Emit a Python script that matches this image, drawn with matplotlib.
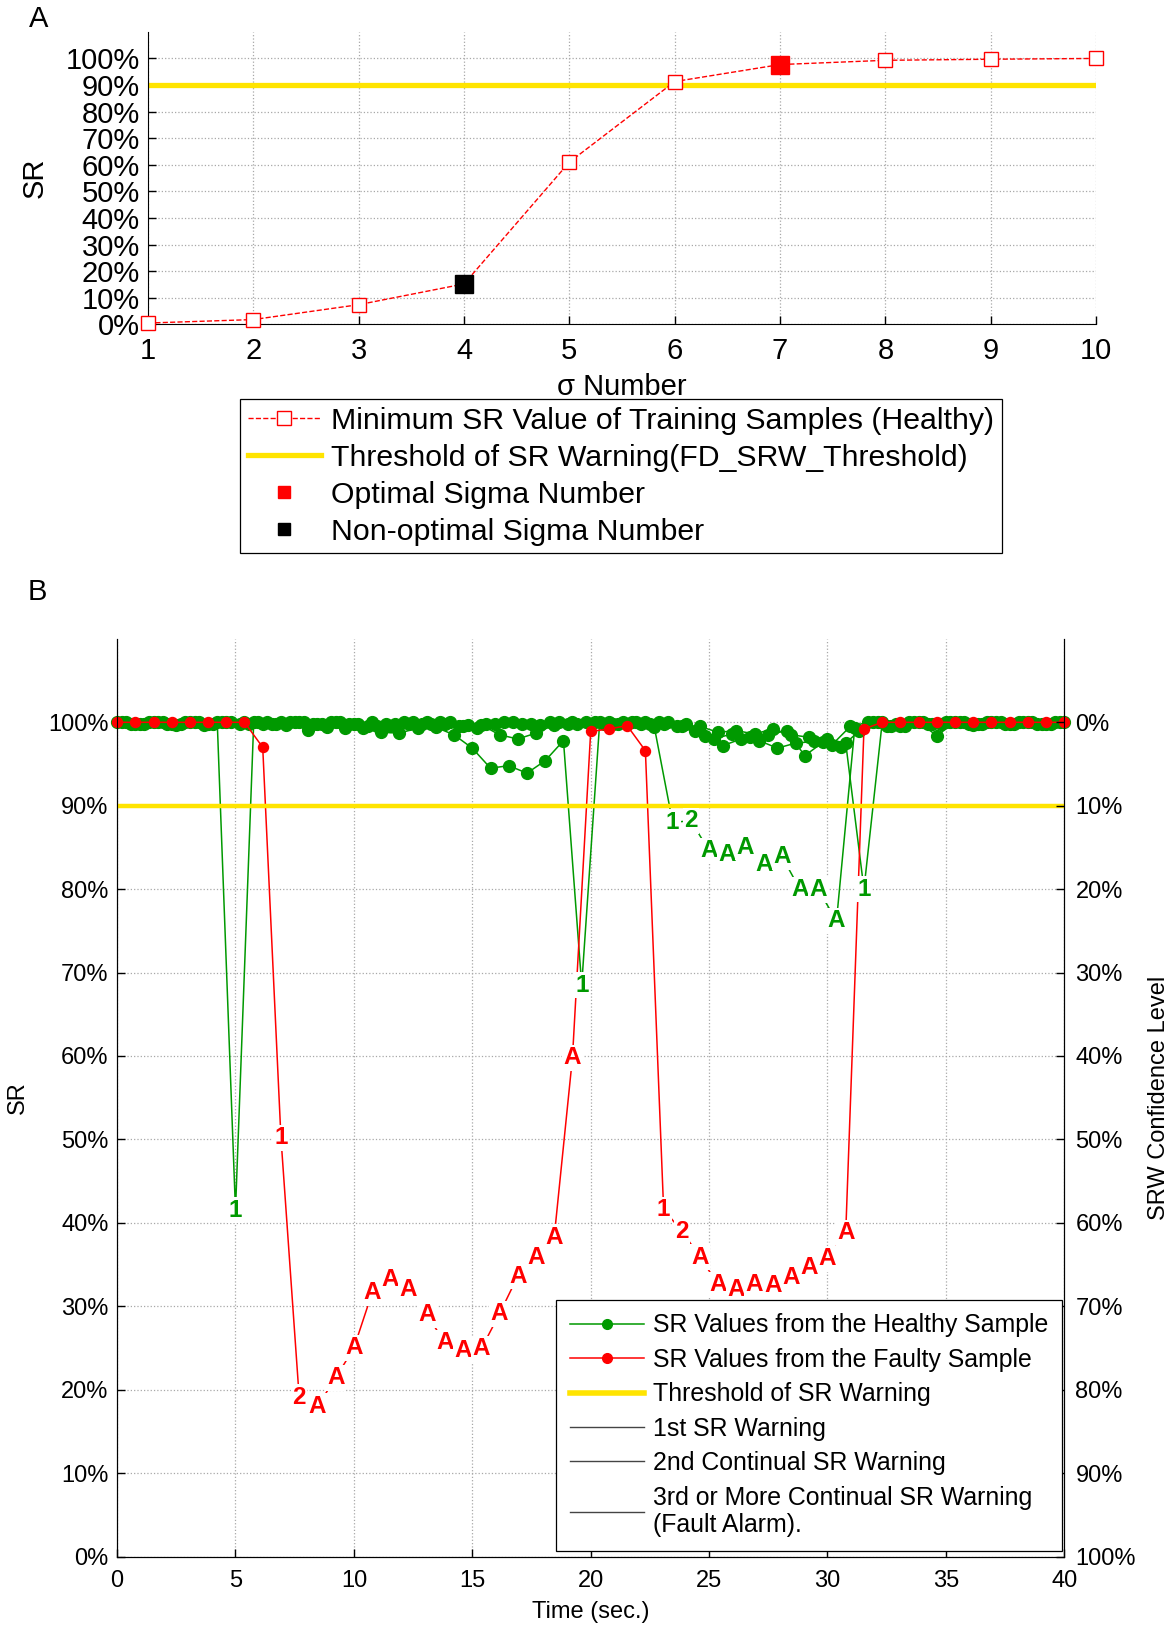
import matplotlib
matplotlib.use('Agg')
import matplotlib.pyplot as plt
from matplotlib.lines import Line2D
import numpy as np

plt.rcParams['font.family'] = ['Liberation Sans', 'DejaVu Sans']

# ---------------- Panel A data ----------------
sigma_numbers = [1, 2, 3, 4, 5, 6, 7, 8, 9, 10]
min_sr_pct = [0.5, 1.8, 7.4, 15.2, 61.0, 91.3, 97.7, 99.3, 99.7, 100.0]
sr_threshold_pct = 90
optimal_sigma = 7
non_optimal_sigma = 4
legend_a_labels = ['Minimum SR Value of Training Samples (Healthy)',
                   'Threshold of SR Warning(FD_SRW_Threshold)',
                   'Optimal Sigma Number',
                   'Non-optimal Sigma Number']

# ---------------- Panel B data ----------------
# faulty sample (time in s, SR in %)
t_faulty = [0.00, 0.77, 1.54, 2.31, 3.08, 3.85, 4.62, 5.38, 6.15, 6.92, 7.69, 8.46, 9.23,
            10.00, 10.77, 11.54, 12.31, 13.08, 13.85, 14.62, 15.38, 16.15, 16.92, 17.69,
            18.46, 19.23, 20.00, 20.77, 21.54, 22.31, 23.08, 23.85, 24.62, 25.38, 26.15,
            26.92, 27.69, 28.46, 29.23, 30.00, 30.77, 31.54, 32.31, 33.08, 33.85, 34.62,
            35.38, 36.15, 36.92, 37.69, 38.46, 39.23, 40.00]
sr_faulty = [100, 100, 100, 100, 100, 100, 100, 100, 97.0, 50.2, 19.1, 18.0, 21.4,
             25.0, 31.6, 33.2, 32.0, 29.0, 25.6, 24.7, 24.9, 29.1, 33.6, 35.9,
             38.3, 59.8, 98.9, 99.2, 99.6, 96.6, 41.6, 39.0, 35.9, 32.6, 32.0,
             32.6, 32.5, 33.5, 34.7, 35.7, 38.8, 99.2, 100, 100, 100, 100,
             100, 100, 100, 100, 100, 100, 100]

# healthy sample traces
t_healthy_1 = [0.38, 1.15, 1.92, 2.69, 3.46, 4.23, 5.00, 5.77, 6.54, 7.31, 8.08, 8.85, 9.62,
               10.38, 11.15, 11.92, 12.69, 13.46, 14.23, 15.00, 15.77, 16.54, 17.31, 18.08,
               18.85, 19.62, 20.38, 21.15, 21.92, 22.69, 23.46, 24.23, 25.00, 25.77, 26.54,
               27.31, 28.08, 28.85, 29.62, 30.38, 31.15, 31.92, 32.69, 33.46, 34.23, 35.00,
               35.77, 36.54, 37.31, 38.08, 38.85, 39.62]
sr_healthy_1 = [100, 99.8, 100, 99.8, 100, 100, 41.5, 100, 99.8, 100, 99.1, 99.4, 99.3,
                99.3, 98.8, 98.7, 99.3, 99.4, 98.5, 96.9, 94.5, 94.8, 93.9, 95.4,
                97.8, 68.5, 100, 99.8, 100, 99.4, 88.0, 88.2, 84.6, 84.2, 85.0,
                82.9, 83.9, 79.9, 79.9, 76.2, 99.3, 100, 99.6, 100, 99.8, 100,
                100, 99.8, 100, 100, 99.8, 100]

t_healthy_2 = [0.00, 0.77, 1.54, 2.31, 3.08, 3.85, 4.62, 5.38, 6.15, 6.92, 7.69, 8.46, 9.23,
               10.00, 10.77, 11.54, 12.31, 13.08, 13.85, 14.62, 15.38, 16.15, 16.92, 17.69,
               18.46, 19.23, 20.00, 20.77, 21.54, 22.31, 23.08, 23.85, 24.62, 25.38, 26.15,
               26.92, 27.69, 28.46, 29.23, 30.00, 30.77, 31.54, 32.31, 33.08, 33.85, 34.62,
               35.38, 36.15, 36.92, 37.69, 38.46, 39.23, 40.00]
sr_healthy_2 = [100, 99.8, 100, 99.8, 100, 99.8, 100, 100, 99.8, 100, 100, 99.8, 100,
                99.8, 100, 99.6, 99.8, 100, 99.8, 99.5, 99.7, 98.5, 98.0, 98.7,
                99.7, 100, 99.8, 100, 99.8, 100, 99.8, 99.6, 99.5, 98.8, 99.0,
                98.6, 99.2, 98.5, 98.2, 98.0, 97.5, 80.0, 100, 99.6, 100, 98.4,
                100, 99.7, 100, 99.8, 100, 99.8, 100]

t_healthy_3 = [0.19, 0.96, 1.73, 2.50, 3.27, 4.04, 4.81, 5.58, 6.35, 7.12, 7.88, 8.65, 9.42,
               10.19, 10.96, 11.73, 12.50, 13.27, 14.04, 14.81, 15.58, 16.35, 17.12, 17.88,
               18.65, 19.42, 20.19, 20.96, 21.73, 22.50, 23.27, 24.04, 24.81, 25.58, 26.35,
               27.12, 27.88, 28.65, 29.42, 30.19, 30.96, 31.73, 32.50, 33.27, 34.04, 34.81,
               35.58, 36.35, 37.12, 37.88, 38.65, 39.42]
sr_healthy_3 = [100, 99.8, 100, 99.7, 100, 99.8, 100, 99.8, 100, 99.7, 100, 99.8, 100,
                99.8, 99.5, 99.8, 100, 99.8, 100, 99.7, 99.8, 100, 99.8, 99.7,
                100, 99.8, 100, 99.8, 100, 99.8, 100, 99.8, 98.3, 97.2, 98.0,
                97.8, 96.9, 97.5, 97.7, 97.3, 99.5, 100, 99.5, 99.6, 100, 99.8,
                100, 99.8, 100, 99.8, 100, 99.8]

t_healthy_4 = [0.58, 1.35, 2.12, 2.88, 3.65, 4.42, 5.19, 5.96, 6.73, 7.50, 8.27, 9.04, 9.81,
               10.58, 11.35, 12.12, 12.88, 13.65, 14.42, 15.19, 15.96, 16.73, 17.50, 18.27,
               19.04, 19.81, 20.58, 21.35, 22.12, 22.88, 23.65, 24.42, 25.19, 25.96, 26.73,
               27.50, 28.27, 29.04, 29.81, 30.58, 31.35, 32.12, 32.88, 33.65, 34.42, 35.19,
               35.96, 36.73, 37.50, 38.27, 39.04, 39.81]
sr_healthy_4 = [99.8, 100, 99.8, 100, 99.7, 100, 99.8, 100, 99.8, 100, 99.8, 100, 99.8,
                99.6, 99.8, 100, 99.8, 100, 99.6, 99.3, 99.8, 100, 99.8, 100,
                99.8, 100, 99.8, 100, 99.8, 100, 99.6, 99.0, 98.0, 98.6, 98.2,
                98.5, 99.0, 96.0, 97.6, 97.0, 99.0, 100, 99.8, 100, 99.8, 100,
                99.8, 100, 99.8, 100, 99.8, 100]

legend_b_labels = ['SR Values from the Healthy Sample',
                   'SR Values from the Faulty Sample',
                   'Threshold of SR Warning',
                   '1st SR Warning',
                   '2nd Continual SR Warning',
                   '3rd or More Continual SR Warning\n(Fault Alarm).']

# ---------------- styles ----------------
RED = '#FF0000'
GREEN = '#009900'
YELLOW = '#FFE400'
GRID = dict(color='#a8a8a8', linestyle=':', linewidth=0.9)


def warning_labels(values, thr):
    labels, run = [], 0
    for v in values:
        if v < thr:
            run += 1
            labels.append('1' if run == 1 else ('2' if run == 2 else 'A'))
        else:
            run = 0
            labels.append(None)
    return labels


fig = plt.figure(figsize=(11.72, 16.25), dpi=100)

# ================= Panel A =================
axA = fig.add_axes([0.1263, 0.8004, 0.8089, 0.18])
axA.plot(sigma_numbers, min_sr_pct, color=RED, linestyle='--', linewidth=1.0,
         marker='s', markersize=9.5, markerfacecolor='white', markeredgecolor=RED,
         markeredgewidth=1.0, zorder=3, clip_on=False)
axA.axhline(sr_threshold_pct, color=YELLOW, linewidth=3.8, zorder=2)
i_opt = sigma_numbers.index(optimal_sigma)
i_non = sigma_numbers.index(non_optimal_sigma)
axA.plot([optimal_sigma], [min_sr_pct[i_opt]], linestyle='none', marker='s',
         markersize=13, color=RED, zorder=4)
axA.plot([non_optimal_sigma], [min_sr_pct[i_non]], linestyle='none', marker='s',
         markersize=13, color='black', zorder=4)
axA.set_xlim(1, 10)
axA.set_ylim(0, 110)
axA.set_xticks(sigma_numbers)
yt = list(range(0, 101, 10))
axA.set_yticks(yt)
axA.set_yticklabels([f'{v}%' for v in yt])
axA.tick_params(direction='in', length=6, labelsize=21, width=1)
axA.tick_params(axis='x', pad=9)
axA.tick_params(axis='y', pad=6)
axA.grid(True, **GRID)
axA.spines['top'].set_visible(False)
axA.spines['right'].set_visible(False)
axA.set_xlabel('σ Number', fontsize=21, labelpad=6)
axA.set_ylabel('SR', fontsize=21, labelpad=12)

hA = [Line2D([], [], color=RED, linestyle='--', linewidth=1.0, marker='s', markersize=9.5,
             markerfacecolor='white', markeredgecolor=RED),
      Line2D([], [], color=YELLOW, linewidth=3.8),
      Line2D([], [], linestyle='none', marker='s', markersize=9, color=RED),
      Line2D([], [], linestyle='none', marker='s', markersize=9, color='black')]
legA = fig.legend(hA, legend_a_labels, loc='upper center', bbox_to_anchor=(0.530, 0.7545),
                  fontsize=21.8, handlelength=2.4, handletextpad=0.35, labelspacing=0.3,
                  borderpad=0.25, borderaxespad=0, fancybox=False, framealpha=1,
                  edgecolor='black')
legA.get_frame().set_linewidth(0.9)

fig.text(39 / 1172, 1 - 19 / 1625, 'A', fontsize=21, ha='center', va='center')
fig.text(37 / 1172, 1 - 592 / 1625, 'B', fontsize=21, ha='center', va='center')

# ================= Panel B =================
axB = fig.add_axes([0.0999, 0.04215, 0.8082, 0.5647])
healthy = [(t_healthy_1, sr_healthy_1), (t_healthy_2, sr_healthy_2),
           (t_healthy_3, sr_healthy_3), (t_healthy_4, sr_healthy_4)]
for t, v in healthy:
    t = np.asarray(t); v = np.asarray(v)
    axB.plot(t, v, color=GREEN, linewidth=1.1, zorder=2)
    ok = v >= sr_threshold_pct
    axB.plot(t[ok], v[ok], linestyle='none', marker='o', markersize=8.5, color=GREEN,
             zorder=2, clip_on=False)

tf = np.asarray(t_faulty); vf = np.asarray(sr_faulty)
axB.plot(tf, vf, color=RED, linewidth=1.1, zorder=3)
okf = vf >= sr_threshold_pct
axB.plot(tf[okf], vf[okf], linestyle='none', marker='o', markersize=7.2, color=RED,
         zorder=3, clip_on=False)

axB.axhline(sr_threshold_pct, color=YELLOW, linewidth=3.2, zorder=4)

for (t, v), col in [((t_healthy_1, sr_healthy_1), GREEN), ((t_healthy_2, sr_healthy_2), GREEN),
                    ((t_healthy_3, sr_healthy_3), GREEN), ((t_healthy_4, sr_healthy_4), GREEN),
                    ((t_faulty, sr_faulty), RED)]:
    for ti, vi, lab in zip(t, v, warning_labels(v, sr_threshold_pct)):
        if lab is not None:
            axB.text(ti, vi, lab, color=col, fontsize=17.5, fontweight='bold',
                     ha='center', va='center', zorder=6,
                     bbox=dict(facecolor='white', edgecolor='none', pad=1.0))

axB.set_xlim(0, 40)
axB.set_ylim(0, 110)
axB.set_xticks(range(0, 41, 5))
axB.set_yticks(yt)
axB.set_yticklabels([f'{v}%' for v in yt])
axB.tick_params(direction='in', length=6, labelsize=17, width=1)
axB.tick_params(axis='x', pad=10)
axB.tick_params(axis='y', pad=6)
axB.grid(True, **GRID)
axB.spines['top'].set_visible(False)
axB.set_xlabel('Time (sec.)', fontsize=17, labelpad=6)
axB.set_ylabel('SR', fontsize=17, labelpad=14)

axB2 = axB.twinx()
axB2.set_ylim(0, 110)
axB2.set_yticks(yt)
axB2.set_yticklabels([f'{100 - v}%' for v in yt])
axB2.tick_params(direction='in', length=6, labelsize=17, width=1, pad=8)
axB2.spines['top'].set_visible(False)
axB2.set_ylabel('SRW Confidence Level', fontsize=17, labelpad=9)

hB = [Line2D([], [], color=GREEN, linewidth=1.1, marker='o', markersize=7),
      Line2D([], [], color=RED, linewidth=1.1, marker='o', markersize=7),
      Line2D([], [], color=YELLOW, linewidth=4),
      Line2D([], [], color='#444444', linewidth=1.0),
      Line2D([], [], color='#444444', linewidth=1.0),
      Line2D([], [], color='#444444', linewidth=1.0)]
legB = axB2.legend(hB, legend_b_labels, loc='lower right', bbox_to_anchor=(0.906, 0.0455),
                   bbox_transform=fig.transFigure, fontsize=17.9, handlelength=3.0,
                   handletextpad=0.35, labelspacing=0.42, borderpad=0.55, borderaxespad=0,
                   fancybox=False, framealpha=1, edgecolor='black', numpoints=1)
legB.get_frame().set_linewidth(0.9)

fig.savefig('out.png', dpi=100)
